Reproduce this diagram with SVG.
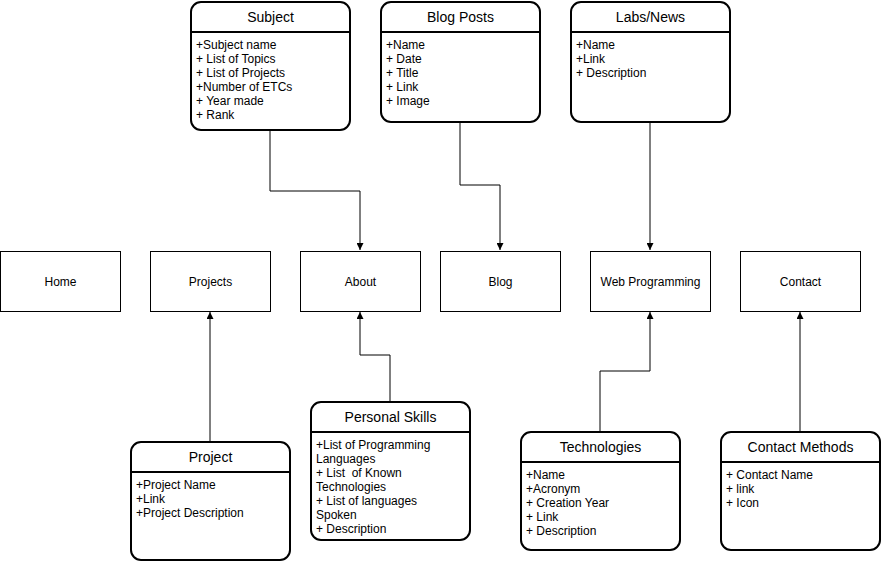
<svg xmlns="http://www.w3.org/2000/svg" width="882" height="562" viewBox="0 0 882 562">
<style>
.page{fill:#fff;stroke:#000;stroke-width:1}
.ent{fill:#fff;stroke:#000;stroke-width:2}
.sep{stroke:#000;stroke-width:2}
.t{font-family:"Liberation Sans",Arial,sans-serif;font-size:12px;fill:#000}
.h{font-family:"Liberation Sans",Arial,sans-serif;font-size:14px;fill:#000;text-anchor:middle}
.c{text-anchor:middle}
.ln{fill:none;stroke:#000;stroke-width:1}
</style>
<defs>
<marker id="arr" viewBox="0 0 10 10" refX="10" refY="5" markerWidth="7" markerHeight="7" orient="auto" markerUnits="userSpaceOnUse">
<path d="M0,0 L10,5 L0,10 z" fill="#000"/>
</marker>
</defs>
<rect width="882" height="562" fill="#fff"/>
<g id="connectors">
<path class="ln" d="M270,130 V191 H360 V250" marker-end="url(#arr)"/>
<path class="ln" d="M460,122 V185 H500 V250" marker-end="url(#arr)"/>
<path class="ln" d="M650,122 V250" marker-end="url(#arr)"/>
<path class="ln" d="M210,442 V312" marker-end="url(#arr)"/>
<path class="ln" d="M390,402 V355 H360 V312" marker-end="url(#arr)"/>
<path class="ln" d="M600,432 V371 H650 V312" marker-end="url(#arr)"/>
<path class="ln" d="M800,432 V312" marker-end="url(#arr)"/>
</g>
<g id="home"><rect class="page" x="0.5" y="251.5" width="120" height="60"/><text class="t c" x="60.5" y="285.5">Home</text></g>
<g id="projects"><rect class="page" x="150.5" y="251.5" width="120" height="60"/><text class="t c" x="210.5" y="285.5">Projects</text></g>
<g id="about"><rect class="page" x="300.5" y="251.5" width="120" height="60"/><text class="t c" x="360.5" y="285.5">About</text></g>
<g id="blog"><rect class="page" x="440.5" y="251.5" width="120" height="60"/><text class="t c" x="500.5" y="285.5">Blog</text></g>
<g id="webprog"><rect class="page" x="590.5" y="251.5" width="120" height="60"/><text class="t c" x="650.5" y="285.5">Web Programming</text></g>
<g id="contact"><rect class="page" x="740.5" y="251.5" width="120" height="60"/><text class="t c" x="800.5" y="285.5">Contact</text></g>

<g id="subject">
<rect class="ent" x="191" y="2" width="159" height="128" rx="10"/>
<line class="sep" x1="191" y1="32" x2="350" y2="32"/>
<text class="h" x="270.5" y="22">Subject</text>
<text class="t" x="196" y="49">+Subject name</text>
<text class="t" x="196" y="63">+ List of Topics</text>
<text class="t" x="196" y="77">+ List of Projects</text>
<text class="t" x="196" y="91">+Number of ETCs</text>
<text class="t" x="196" y="105">+ Year made</text>
<text class="t" x="196" y="119">+ Rank</text>
</g>
<g id="blogposts">
<rect class="ent" x="381" y="2" width="159" height="120" rx="10"/>
<line class="sep" x1="381" y1="32" x2="540" y2="32"/>
<text class="h" x="460.5" y="22">Blog Posts</text>
<text class="t" x="386" y="49">+Name</text>
<text class="t" x="386" y="63">+ Date</text>
<text class="t" x="386" y="77">+ Title</text>
<text class="t" x="386" y="91">+ Link</text>
<text class="t" x="386" y="105">+ Image</text>
</g>
<g id="labsnews">
<rect class="ent" x="571" y="2" width="159" height="120" rx="10"/>
<line class="sep" x1="571" y1="32" x2="730" y2="32"/>
<text class="h" x="650.5" y="22">Labs/News</text>
<text class="t" x="576" y="49">+Name</text>
<text class="t" x="576" y="63">+Link</text>
<text class="t" x="576" y="77">+ Description</text>
</g>
<g id="project">
<rect class="ent" x="131" y="442" width="159" height="118" rx="10"/>
<line class="sep" x1="131" y1="472" x2="290" y2="472"/>
<text class="h" x="210.5" y="462">Project</text>
<text class="t" x="136" y="489">+Project Name</text>
<text class="t" x="136" y="503">+Link</text>
<text class="t" x="136" y="517">+Project Description</text>
</g>
<g id="personalskills">
<rect class="ent" x="311" y="402" width="159" height="138" rx="10"/>
<line class="sep" x1="311" y1="432" x2="470" y2="432"/>
<text class="h" x="390.5" y="422">Personal Skills</text>
<text class="t" x="316" y="449">+List of Programming</text>
<text class="t" x="316" y="463">Languages</text>
<text class="t" x="316" y="477" xml:space="preserve">+ List  of Known</text>
<text class="t" x="316" y="491">Technologies</text>
<text class="t" x="316" y="505">+ List of languages</text>
<text class="t" x="316" y="519">Spoken</text>
<text class="t" x="316" y="533">+ Description</text>
</g>
<g id="technologies">
<rect class="ent" x="521" y="432" width="159" height="118" rx="10"/>
<line class="sep" x1="521" y1="462" x2="680" y2="462"/>
<text class="h" x="600.5" y="452">Technologies</text>
<text class="t" x="526" y="479">+Name</text>
<text class="t" x="526" y="493">+Acronym</text>
<text class="t" x="526" y="507">+ Creation Year</text>
<text class="t" x="526" y="521">+ Link</text>
<text class="t" x="526" y="535">+ Description</text>
</g>
<g id="contactmethods">
<rect class="ent" x="721" y="432" width="159" height="118" rx="10"/>
<line class="sep" x1="721" y1="462" x2="880" y2="462"/>
<text class="h" x="800.5" y="452">Contact Methods</text>
<text class="t" x="726" y="479">+ Contact Name</text>
<text class="t" x="726" y="493">+ link</text>
<text class="t" x="726" y="507">+ Icon</text>
</g>
</svg>
